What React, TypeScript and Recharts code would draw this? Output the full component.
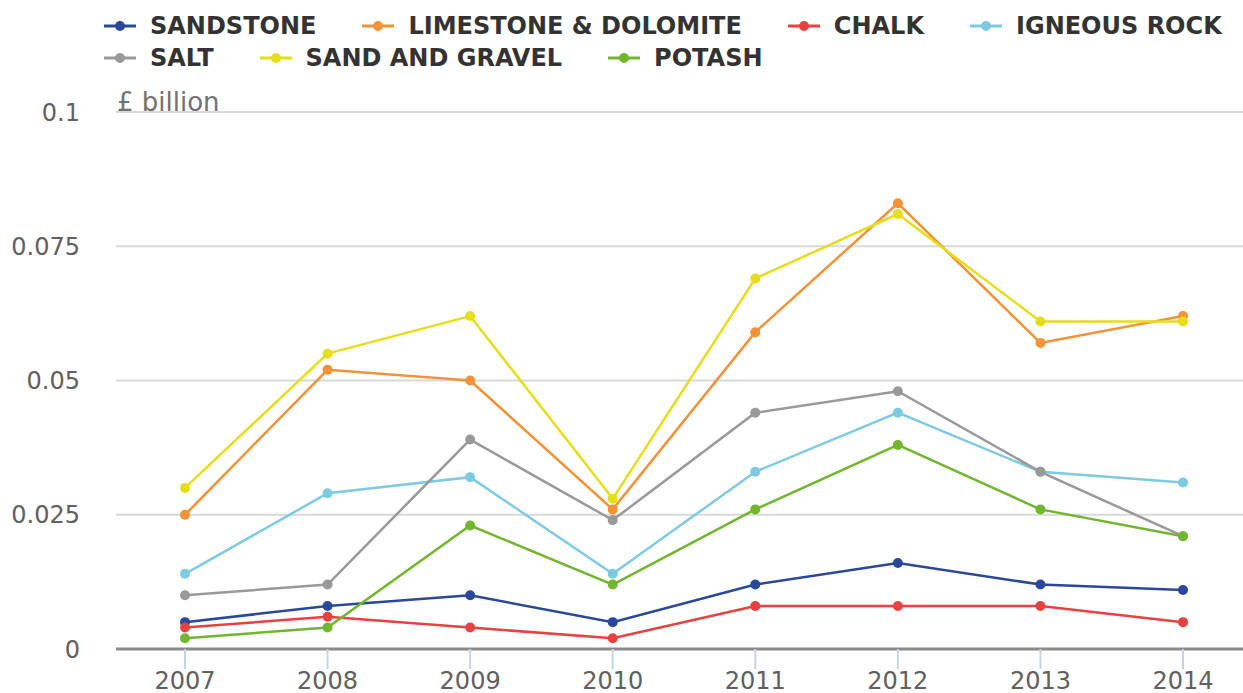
import React from 'react';
import { LineChart, Line, XAxis, YAxis, CartesianGrid, Legend } from 'recharts';

const years = ['2007', '2008', '2009', '2010', '2011', '2012', '2013', '2014'];
const sandstone = [0.005, 0.008, 0.010, 0.005, 0.012, 0.016, 0.012, 0.011];
const limestone = [0.025, 0.052, 0.050, 0.026, 0.059, 0.083, 0.057, 0.062];
const chalk = [0.004, 0.006, 0.004, 0.002, 0.008, 0.008, 0.008, 0.005];
const igneous = [0.014, 0.029, 0.032, 0.014, 0.033, 0.044, 0.033, 0.031];
const salt = [0.010, 0.012, 0.039, 0.024, 0.044, 0.048, 0.033, 0.021];
const sandGravel = [0.030, 0.055, 0.062, 0.028, 0.069, 0.081, 0.061, 0.061];
const potash = [0.002, 0.004, 0.023, 0.012, 0.026, 0.038, 0.026, 0.021];
const yTicks = [0, 0.025, 0.05, 0.075, 0.1];

const SERIES = [
  { key: 'sandstone', name: 'SANDSTONE', color: '#2a4899', values: sandstone },
  { key: 'limestone', name: 'LIMESTONE & DOLOMITE', color: '#f39236', values: limestone },
  { key: 'chalk', name: 'CHALK', color: '#e84141', values: chalk },
  { key: 'igneous', name: 'IGNEOUS ROCK', color: '#7ecae2', values: igneous },
  { key: 'salt', name: 'SALT', color: '#999999', values: salt },
  { key: 'sandGravel', name: 'SAND AND GRAVEL', color: '#e6dd1b', values: sandGravel },
  { key: 'potash', name: 'POTASH', color: '#72b62f', values: potash },
];

const data = years.map((y, i) => {
  const row: Record<string, any> = { year: y };
  SERIES.forEach((s) => {
    row[s.key] = s.values[i];
  });
  return row;
});

const FONT = '"DejaVu Sans", "Liberation Sans", sans-serif';

const renderLegend = () => (
  <div
    style={{
      height: 112,
      boxSizing: 'border-box',
      paddingTop: 10,
      paddingLeft: 104,
      width: 1243,
      display: 'flex',
      flexWrap: 'wrap',
      columnGap: 46,
      alignContent: 'flex-start',
    }}
  >
    {SERIES.map((s) => (
      <div key={s.key} style={{ display: 'flex', alignItems: 'center', height: 32 }}>
        <svg width={32} height={14} style={{ display: 'block' }}>
          <line x1={0} y1={7} x2={32} y2={7} stroke={s.color} strokeWidth={3} />
          <circle cx={16} cy={7} r={5} fill={s.color} />
        </svg>
        <span
          style={{
            marginLeft: 14,
            fontFamily: FONT,
            fontWeight: 'bold',
            fontSize: 24,
            color: '#333333',
            lineHeight: '32px',
            whiteSpace: 'nowrap',
          }}
        >
          {s.name}
        </span>
      </div>
    ))}
  </div>
);

const renderUnit = (props: any) => {
  const vb = props.viewBox || {};
  return (
    <text
      x={(vb.x || 0) + (vb.width || 0) + 1}
      y={(vb.y || 0) - 1}
      fill="#717171"
      fontSize={26}
      fontFamily={FONT}
      textAnchor="start"
    >
      £ billion
    </text>
  );
};

export default function App() {
  return (
    <div style={{ position: 'absolute', left: 0, top: 0, width: 1243, height: 693, overflow: 'hidden', background: '#fff' }}>
      <LineChart width={1243} height={693} data={data} margin={{ top: 0, right: 0, bottom: 0, left: 0 }}>
        <Legend verticalAlign="top" align="left" content={renderLegend} wrapperStyle={{ top: 0, left: 0, width: 1243 }} />
        <CartesianGrid vertical={false} stroke="#d9d9d9" strokeWidth={2} />
        <XAxis
          dataKey="year"
          height={44}
          padding={{ left: 69, right: 60 }}
          axisLine={{ stroke: '#8a8a8a', strokeWidth: 3 }}
          tickLine={{ stroke: '#c6d3e3', strokeWidth: 2 }}
          tickSize={20}
          tickMargin={3}
          tick={{ fill: '#606060', fontSize: 24, fontFamily: FONT }}
          interval={0}
        />
        <YAxis
          width={116}
          domain={[0, 0.1]}
          ticks={yTicks}
          axisLine={false}
          tickLine={false}
          tickSize={0}
          tickMargin={36}
          tick={{ fill: '#606060', fontSize: 24, fontFamily: FONT }}
          label={{ content: renderUnit }}
        />
        {SERIES.map((s) => (
          <Line
            key={s.key}
            type="linear"
            dataKey={s.key}
            name={s.name}
            stroke={s.color}
            strokeWidth={2.5}
            dot={{ r: 5, fill: s.color, stroke: s.color, strokeWidth: 0 }}
            activeDot={false}
            isAnimationActive={false}
          />
        ))}
      </LineChart>
    </div>
  );
}
